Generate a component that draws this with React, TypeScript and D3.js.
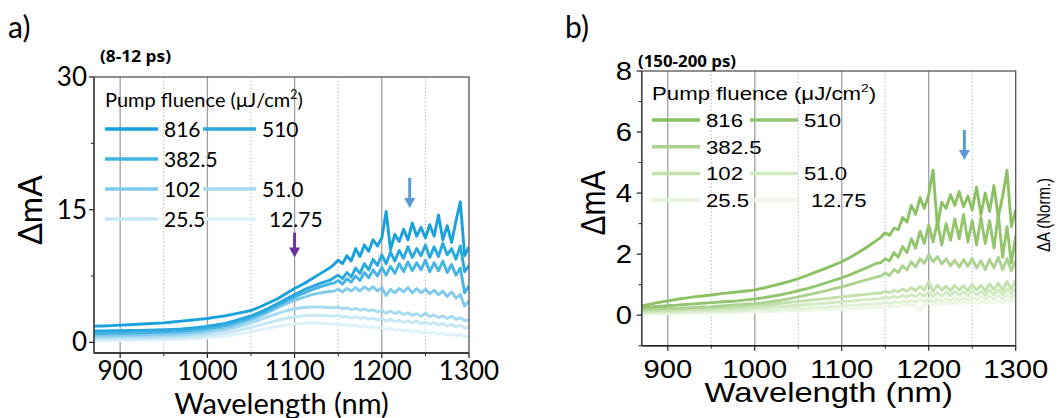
import React from 'react';
import * as d3 from 'd3';

// ---------- data ----------
const WAVELENGTH = [
  870, 880, 890, 900, 910, 920, 930, 940, 950, 960, 970, 980, 990, 1000, 1010, 1020, 1030, 1040, 1050, 1060,
  1070, 1080, 1090, 1100, 1110, 1120, 1130, 1140,
  1145, 1150, 1155, 1160, 1165, 1170, 1175, 1180, 1185, 1190, 1195, 1200, 1205, 1210, 1215, 1220, 1225, 1230,
  1235, 1240, 1245, 1250, 1255, 1260, 1265, 1270, 1275, 1280, 1285, 1290, 1295, 1300,
];

const FLUENCE_LABELS = ['816', '510', '382.5', '102', '51.0', '25.5', '12.75'];

// panel a (8-12 ps)
const A_816 = [1.84, 1.86, 1.9, 1.95, 2.0, 2.05, 2.1, 2.15, 2.2, 2.3, 2.4, 2.5, 2.6, 2.7, 2.85, 3.0, 3.2, 3.4, 3.6, 4.0, 4.45, 4.9, 5.5, 6.1, 6.6, 7.2, 7.8, 8.4,
  8.8, 9.3, 8.9, 9.8, 9.2, 10.6, 9.7, 11.0, 10.3, 11.6, 10.9, 11.8, 14.8, 10.5, 12.2, 11.4, 12.8, 11.6, 13.5, 12.0, 13.0, 11.8, 13.3, 12.0, 14.4, 11.6, 13.2, 11.3, 13.7, 15.9, 9.8, 10.8];
const A_510 = [1.3, 1.3, 1.31, 1.32, 1.34, 1.36, 1.38, 1.4, 1.43, 1.47, 1.52, 1.6, 1.7, 1.82, 1.97, 2.15, 2.4, 2.7, 3.0, 3.4, 3.85, 4.35, 4.9, 5.4, 5.9, 6.3, 6.7, 7.0,
  7.3, 7.6, 7.2, 7.9, 7.4, 8.4, 7.8, 8.9, 8.2, 9.4, 8.7, 9.9, 8.9, 10.2, 9.2, 10.4, 9.5, 10.8, 9.6, 10.6, 9.8, 11.0, 9.6, 10.8, 9.7, 11.2, 9.9, 10.6, 9.4, 10.9, 8.0, 8.7];
const A_382 = [1.0, 1.0, 1.02, 1.04, 1.06, 1.08, 1.1, 1.13, 1.16, 1.2, 1.26, 1.34, 1.44, 1.56, 1.72, 1.9, 2.15, 2.45, 2.8, 3.2, 3.65, 4.15, 4.65, 5.1, 5.55, 5.95, 6.3, 6.6,
  6.7, 7.0, 6.6, 7.2, 6.8, 7.5, 7.0, 7.9, 7.3, 8.2, 7.5, 8.5, 7.6, 8.6, 7.8, 8.9, 8.0, 9.1, 8.1, 9.0, 8.2, 9.3, 8.0, 9.0, 8.1, 9.2, 7.9, 8.8, 7.6, 8.4, 5.6, 6.4];
const A_102 = [0.8, 0.8, 0.81, 0.82, 0.84, 0.86, 0.88, 0.9, 0.93, 0.97, 1.02, 1.1, 1.2, 1.32, 1.48, 1.66, 1.9, 2.2, 2.55, 2.95, 3.4, 3.9, 4.35, 4.75, 5.1, 5.4, 5.6, 5.75,
  5.8, 6.0, 5.7, 6.1, 5.8, 6.2, 5.8, 6.3, 5.9, 6.3, 5.8, 6.2, 5.3, 6.0, 5.6, 6.1, 5.7, 6.2, 5.6, 6.1, 5.6, 6.0, 5.5, 5.9, 5.4, 5.8, 5.2, 5.7, 5.0, 5.4, 4.1, 4.7];
const A_51 = [0.6, 0.6, 0.61, 0.62, 0.63, 0.65, 0.67, 0.69, 0.72, 0.76, 0.81, 0.88, 0.97, 1.08, 1.22, 1.4, 1.62, 1.9, 2.2, 2.55, 2.9, 3.25, 3.55, 3.8, 3.95, 4.0, 4.0, 3.95,
  3.9, 4.0, 3.8, 3.9, 3.7, 3.85, 3.65, 3.8, 3.55, 3.7, 3.45, 3.6, 3.3, 3.55, 3.25, 3.45, 3.15, 3.35, 3.05, 3.25, 2.95, 3.3, 2.9, 3.1, 2.8, 3.0, 2.7, 2.95, 2.6, 2.8, 2.45, 2.55];
const A_25 = [0.4, 0.4, 0.41, 0.42, 0.43, 0.44, 0.46, 0.48, 0.5, 0.53, 0.57, 0.62, 0.69, 0.78, 0.9, 1.05, 1.24, 1.46, 1.7, 1.96, 2.22, 2.48, 2.7, 2.88, 3.0, 3.05, 3.05, 3.0,
  2.95, 3.05, 2.85, 2.95, 2.75, 2.9, 2.7, 2.85, 2.6, 2.75, 2.5, 2.7, 2.4, 2.6, 2.35, 2.5, 2.25, 2.45, 2.2, 2.4, 2.1, 2.3, 2.05, 2.25, 1.95, 2.15, 1.85, 2.05, 1.75, 1.95, 1.6, 1.7];
const A_12 = [0.22, 0.22, 0.23, 0.23, 0.24, 0.25, 0.26, 0.27, 0.29, 0.31, 0.34, 0.38, 0.43, 0.5, 0.59, 0.7, 0.84, 1.0, 1.2, 1.4, 1.6, 1.8, 1.97, 2.1, 2.18, 2.2, 2.18, 2.12,
  2.05, 2.12, 1.95, 2.02, 1.85, 1.95, 1.75, 1.88, 1.65, 1.8, 1.55, 1.72, 1.45, 1.62, 1.35, 1.5, 1.25, 1.42, 1.15, 1.32, 1.05, 1.25, 1.0, 1.15, 0.9, 1.05, 0.82, 0.95, 0.72, 0.88, 0.62, 0.72];

// panel b (150-200 ps)
const B_816 = [0.3, 0.36, 0.42, 0.47, 0.52, 0.56, 0.6, 0.63, 0.66, 0.7, 0.73, 0.76, 0.79, 0.83, 0.89, 0.96, 1.03, 1.11, 1.2, 1.3, 1.41, 1.52, 1.63, 1.75, 1.9, 2.07, 2.25, 2.45,
  2.55, 2.7, 2.62, 2.85, 2.8, 3.2, 3.05, 3.6, 3.3, 3.85, 3.5, 3.95, 4.75, 2.9, 3.7, 3.5, 3.95, 3.6, 4.05, 3.55, 3.9, 3.45, 4.2, 3.3, 4.0, 3.4, 4.25, 3.2, 3.9, 4.75, 2.9, 3.45];
const B_510 = [0.25, 0.27, 0.29, 0.31, 0.33, 0.35, 0.37, 0.39, 0.41, 0.43, 0.45, 0.47, 0.5, 0.53, 0.57, 0.62, 0.67, 0.73, 0.8, 0.87, 0.95, 1.04, 1.13, 1.22, 1.33, 1.45, 1.57, 1.7,
  1.72, 1.85, 1.78, 2.05, 1.9, 2.25, 2.05, 2.5, 2.2, 2.75, 2.35, 2.95, 2.4, 3.05, 2.3, 3.0, 2.45, 3.15, 2.5, 3.3, 2.4, 3.1, 2.3, 3.2, 2.35, 3.1, 2.2, 3.3, 1.9, 2.9, 1.7, 2.6];
const B_382 = [0.19, 0.2, 0.21, 0.22, 0.23, 0.24, 0.25, 0.27, 0.28, 0.3, 0.32, 0.34, 0.36, 0.38, 0.41, 0.45, 0.49, 0.54, 0.6, 0.66, 0.72, 0.79, 0.86, 0.93, 1.01, 1.09, 1.17, 1.25,
  1.28, 1.38, 1.3, 1.5, 1.4, 1.62, 1.48, 1.75, 1.58, 1.85, 1.7, 1.98, 1.75, 1.92, 1.68, 1.85, 1.62, 1.8, 1.58, 1.82, 1.6, 1.85, 1.55, 1.78, 1.5, 1.82, 1.55, 1.9, 1.5, 1.85, 1.45, 1.8];
const B_102 = [0.14, 0.15, 0.16, 0.17, 0.18, 0.19, 0.2, 0.21, 0.22, 0.23, 0.25, 0.27, 0.29, 0.31, 0.33, 0.36, 0.39, 0.42, 0.45, 0.48, 0.51, 0.54, 0.57, 0.6, 0.63, 0.66, 0.69, 0.72,
  0.72, 0.78, 0.73, 0.82, 0.76, 0.86, 0.78, 0.9, 0.8, 0.95, 0.82, 1.1, 0.78, 0.98, 0.82, 0.95, 0.8, 0.98, 0.82, 0.96, 0.8, 1.0, 0.82, 0.98, 0.8, 1.02, 0.84, 1.05, 0.82, 1.1, 0.85, 1.15];
const B_51 = [0.1, 0.11, 0.11, 0.12, 0.13, 0.14, 0.14, 0.15, 0.16, 0.17, 0.18, 0.2, 0.21, 0.23, 0.25, 0.27, 0.29, 0.31, 0.33, 0.35, 0.37, 0.39, 0.42, 0.44, 0.46, 0.49, 0.51, 0.54,
  0.54, 0.59, 0.55, 0.62, 0.57, 0.65, 0.59, 0.68, 0.6, 0.72, 0.62, 0.78, 0.6, 0.74, 0.63, 0.76, 0.64, 0.78, 0.65, 0.77, 0.64, 0.8, 0.66, 0.78, 0.65, 0.82, 0.67, 0.84, 0.66, 0.86, 0.7, 0.88];
const B_25 = [0.07, 0.07, 0.08, 0.08, 0.09, 0.09, 0.1, 0.1, 0.11, 0.12, 0.13, 0.14, 0.15, 0.16, 0.17, 0.18, 0.2, 0.21, 0.23, 0.24, 0.26, 0.27, 0.29, 0.3, 0.32, 0.34, 0.36, 0.38,
  0.38, 0.42, 0.38, 0.44, 0.4, 0.47, 0.42, 0.49, 0.43, 0.52, 0.44, 0.55, 0.42, 0.53, 0.46, 0.55, 0.47, 0.57, 0.48, 0.58, 0.49, 0.6, 0.5, 0.6, 0.51, 0.62, 0.52, 0.64, 0.53, 0.66, 0.55, 0.68];
const B_12 = [0.04, 0.04, 0.05, 0.05, 0.05, 0.06, 0.06, 0.07, 0.07, 0.08, 0.08, 0.09, 0.1, 0.1, 0.11, 0.12, 0.13, 0.14, 0.15, 0.16, 0.17, 0.18, 0.19, 0.2, 0.21, 0.23, 0.24, 0.26,
  0.26, 0.29, 0.27, 0.31, 0.28, 0.33, 0.3, 0.35, 0.3, 0.15, 0.32, 0.4, 0.33, 0.39, 0.34, 0.41, 0.35, 0.42, 0.36, 0.43, 0.37, 0.44, 0.38, 0.45, 0.39, 0.46, 0.4, 0.47, 0.41, 0.49, 0.43, 0.5];

const BLUES = ['#18a1dc', '#28a8de', '#45b4e3', '#7ecaec', '#a5daf1', '#c6e7f5', '#dff1f8'];
const GREENS = ['#8bc163', '#93c56f', '#abd38f', '#c4e1ad', '#d3e9c2', '#e2f0d7', '#eef6e8'];

const X_TICKS = [900, 1000, 1100, 1200, 1300];
const X_MINOR = [950, 1050, 1150, 1250];
const A_Y_TICKS = [0, 15, 30];
const A_Y_MINOR = [7.5, 22.5];
const B_Y_TICKS = [0, 2, 4, 6, 8];
const B_Y_MINOR = [-1, 1, 3, 5, 7];

// arrows: [wavelength, tail value, tip value]
const A_ARROWS = [
  { w: 1100, from: 12.4, to: 9.6, color: '#7030a0' },
  { w: 1232, from: 18.6, to: 15.2, color: '#5b9bd5' },
];
const B_ARROWS = [{ w: 1241, from: 6.07, to: 5.08, color: '#5b9bd5' }];

// ---------- components ----------
type TProps = {
  x: number; y: number; sx?: number; rot?: number; anchor?: string; size: number; family: string;
  weight?: string | number; children: React.ReactNode; tl?: number;
};
function T({ x, y, sx = 1, rot = 0, anchor = 'start', size, family, weight = 'normal', children, tl }: TProps) {
  return (
    <g transform={`translate(${x},${y}) scale(${sx},1) rotate(${rot})`}>
      <text
        x={0}
        y={0}
        textAnchor={anchor}
        fontSize={size}
        fontFamily={family}
        fontWeight={weight}
        fill="#000"
        {...(tl ? { textLength: tl, lengthAdjust: 'spacingAndGlyphs' } : {})}
      >
        {children}
      </text>
    </g>
  );
}

type PanelProps = {
  id: string;
  xr: [number, number];
  yd: [number, number];
  yr: [number, number];
  series: number[][];
  colors: string[];
  yTicks: number[];
  yMinor: number[];
  arrows: { w: number; from: number; to: number; color: string }[];
  font: string;
  sx: number;
  tickSize: number;
  yLabelX: number;
  xLabelBase: number;
  titleBase: number;
  titleSize: number;
  yTitleX: number;
  yTitleY: number;
  yTitleSize: number;
  legend: {
    x: number; titleY: number; titleSize: number; rowY: number; rowGap: number; lineLen: number;
    textGap: number; col2: number; size: number; dy: number; lw: number;
  };
  sub: { text: string; x: number; y: number; tl: number };
  letter: { text: string; x: number; y: number };
};

function Panel(p: PanelProps) {
  const x = d3.scaleLinear().domain([870, 1300]).range(p.xr);
  const y = d3.scaleLinear().domain(p.yd).range(p.yr);
  const [x0, x1] = p.xr;
  const [yb, yt] = p.yr;
  const line = d3
    .line<number>()
    .x((_, i) => x(WAVELENGTH[i]))
    .y((d) => y(d));
  const order = [6, 5, 4, 3, 2, 1, 0];
  const L = p.legend;
  const col1 = [0, 2, 3, 5];
  const col2 = [1, -1, 4, 6];
  return (
    <g>
      <defs>
        <clipPath id={`clip-${p.id}`}>
          <rect x={x0} y={yt} width={x1 - x0} height={yb - yt} />
        </clipPath>
      </defs>
      {/* grid */}
      {X_TICKS.filter((t) => t < 1300).map((t) => (
        <line key={`g${t}`} x1={x(t)} x2={x(t)} y1={yt} y2={yb} stroke="#a0a0a0" strokeWidth={1.3} />
      ))}
      {X_MINOR.map((t) => (
        <line key={`m${t}`} x1={x(t)} x2={x(t)} y1={yt} y2={yb} stroke="#b8b8b8" strokeWidth={1} strokeDasharray="1.5,2" />
      ))}
      {/* series */}
      <g clipPath={`url(#clip-${p.id})`}>
        {order.map((i) => (
          <path
            key={i}
            d={line(p.series[i]) || ''}
            fill="none"
            stroke={p.colors[i]}
            strokeWidth={2.9}
            strokeLinejoin="round"
          />
        ))}
      </g>
      {/* frame */}
      <rect x={x0} y={yt} width={x1 - x0} height={yb - yt} fill="none" stroke="#555" strokeWidth={1.3} />
      <line x1={x0} x2={x1} y1={yb} y2={yb} stroke="#222" strokeWidth={1.5} />
      <line x1={x0} x2={x0} y1={yt} y2={yb} stroke="#444" strokeWidth={1.5} />
      {/* x ticks */}
      {X_TICKS.map((t) => (
        <line key={`xt${t}`} x1={x(t)} x2={x(t)} y1={yb} y2={yb + 5} stroke="#222" strokeWidth={1.2} />
      ))}
      {X_MINOR.map((t) => (
        <line key={`xm${t}`} x1={x(t)} x2={x(t)} y1={yb} y2={yb + 3} stroke="#222" strokeWidth={1} />
      ))}
      {/* y ticks */}
      {p.yTicks.map((t) => (
        <line key={`yt${t}`} x1={x0 - 5} x2={x0} y1={y(t)} y2={y(t)} stroke="#222" strokeWidth={1.2} />
      ))}
      {p.yMinor.map((t) => (
        <line key={`ym${t}`} x1={x0 - 3} x2={x0} y1={y(t)} y2={y(t)} stroke="#222" strokeWidth={1} />
      ))}
      {/* tick labels */}
      {X_TICKS.map((t) => (
        <T key={`xl${t}`} x={x(t)} y={p.xLabelBase} sx={p.sx} anchor="middle" size={p.tickSize} family={p.font}>
          {t}
        </T>
      ))}
      {p.yTicks.map((t) => (
        <T key={`yl${t}`} x={p.yLabelX} y={y(t) + p.tickSize * 0.34} sx={p.sx} anchor="end" size={p.tickSize} family={p.font}>
          {t}
        </T>
      ))}
      {/* axis titles */}
      <T x={(x0 + x1) / 2} y={p.titleBase} sx={p.sx} anchor="middle" size={p.titleSize} family={p.font}>
        Wavelength (nm)
      </T>
      <T x={p.yTitleX} y={p.yTitleY} sx={p.sx} rot={-90} anchor="middle" size={p.yTitleSize} family={p.font}>
        ΔmA
      </T>
      {/* legend */}
      <T x={L.x} y={L.titleY} sx={p.sx} size={L.titleSize} family={p.font}>
        Pump fluence (μJ/cm
        <tspan dy={-L.titleSize * 0.4} fontSize={L.titleSize * 0.62}>2</tspan>
        <tspan dy={L.titleSize * 0.4}>)</tspan>
      </T>
      {col1.map((si, r) => (
        <g key={`l1${r}`}>
          <line x1={L.x} x2={L.x + L.lineLen} y1={L.rowY + r * L.rowGap} y2={L.rowY + r * L.rowGap} stroke={p.colors[si]} strokeWidth={L.lw} />
          <T x={L.x + L.lineLen + L.textGap} y={L.rowY + r * L.rowGap + L.dy} sx={p.sx} size={L.size} family={p.font}>
            {FLUENCE_LABELS[si]}
          </T>
        </g>
      ))}
      {col2.map((si, r) =>
        si < 0 ? null : (
          <g key={`l2${r}`}>
            <line x1={L.col2} x2={L.col2 + L.lineLen} y1={L.rowY + r * L.rowGap} y2={L.rowY + r * L.rowGap} stroke={p.colors[si]} strokeWidth={L.lw} />
            <T
              x={L.col2 + L.lineLen + L.textGap + (si === 6 ? 7 : 0)}
              y={L.rowY + r * L.rowGap + L.dy}
              sx={p.sx}
              size={L.size}
              family={p.font}
            >
              {FLUENCE_LABELS[si]}
            </T>
          </g>
        )
      )}
      {/* arrows */}
      {p.arrows.map((a, i) => {
        const ax = x(a.w);
        const y1 = y(a.from);
        const y2 = y(a.to);
        return (
          <g key={`a${i}`}>
            <line x1={ax} x2={ax} y1={y1} y2={y2 - 9} stroke={a.color} strokeWidth={3} />
            <polygon points={`${ax - 5.5},${y2 - 10} ${ax + 5.5},${y2 - 10} ${ax},${y2}`} fill={a.color} />
          </g>
        );
      })}
      {/* subtitle and letter */}
      <T x={p.sub.x} y={p.sub.y} size={16} family="'Open Sans', sans-serif" weight="bold" tl={p.sub.tl}>
        {p.sub.text}
      </T>
      <T x={p.letter.x} y={p.letter.y} size={30} family="Lato, sans-serif">
        {p.letter.text}
      </T>
    </g>
  );
}

export default function App() {
  const fontA = 'Lato, sans-serif';
  const fontB = "'Liberation Sans', Arial, sans-serif";
  return (
    <svg
      width={1059}
      height={418}
      viewBox="0 0 1059 418"
      style={{ position: 'absolute', left: 0, top: 0, background: '#fff' }}
    >
      <rect x={0} y={0} width={1059} height={418} fill="#fff" />
      <Panel
        id="a"
        xr={[94, 469]}
        yd={[-1.2, 30]}
        yr={[353, 77]}
        series={[A_816, A_510, A_382, A_102, A_51, A_25, A_12]}
        colors={BLUES}
        yTicks={A_Y_TICKS}
        yMinor={A_Y_MINOR}
        arrows={A_ARROWS}
        font={fontA}
        sx={1}
        tickSize={26}
        yLabelX={87}
        xLabelBase={380}
        titleBase={414}
        titleSize={29}
        yTitleX={42}
        yTitleY={210}
        yTitleSize={32}
        legend={{ x: 105, titleY: 107, titleSize: 20, rowY: 129, rowGap: 30, lineLen: 53, textGap: 6, col2: 203, size: 21, dy: 7.5, lw: 3.3 }}
        sub={{ text: '(8-12 ps)', x: 100, y: 62, tl: 71 }}
        letter={{ text: 'a)', x: 8, y: 38 }}
      />
      <Panel
        id="b"
        xr={[641.7, 1015.7]}
        yd={[-1, 8]}
        yr={[345.7, 71]}
        series={[B_816, B_510, B_382, B_102, B_51, B_25, B_12]}
        colors={GREENS}
        yTicks={B_Y_TICKS}
        yMinor={B_Y_MINOR}
        arrows={B_ARROWS}
        font={fontB}
        sx={1.17}
        tickSize={25}
        yLabelX={632}
        xLabelBase={378}
        titleBase={402}
        titleSize={28}
        yTitleX={605}
        yTitleY={203}
        yTitleSize={30}
        legend={{ x: 652, titleY: 100, titleSize: 19, rowY: 120, rowGap: 26.7, lineLen: 48, textGap: 6, col2: 750, size: 19, dy: 6.8, lw: 3.5 }}
        sub={{ text: '(150-200 ps)', x: 638, y: 67, tl: 98 }}
        letter={{ text: 'b)', x: 565, y: 38 }}
      />
      <T x={1050} y={215} sx={1.17} rot={-90} anchor="middle" size={15} family={fontB}>
        ΔA (Norm.)
      </T>
    </svg>
  );
}
